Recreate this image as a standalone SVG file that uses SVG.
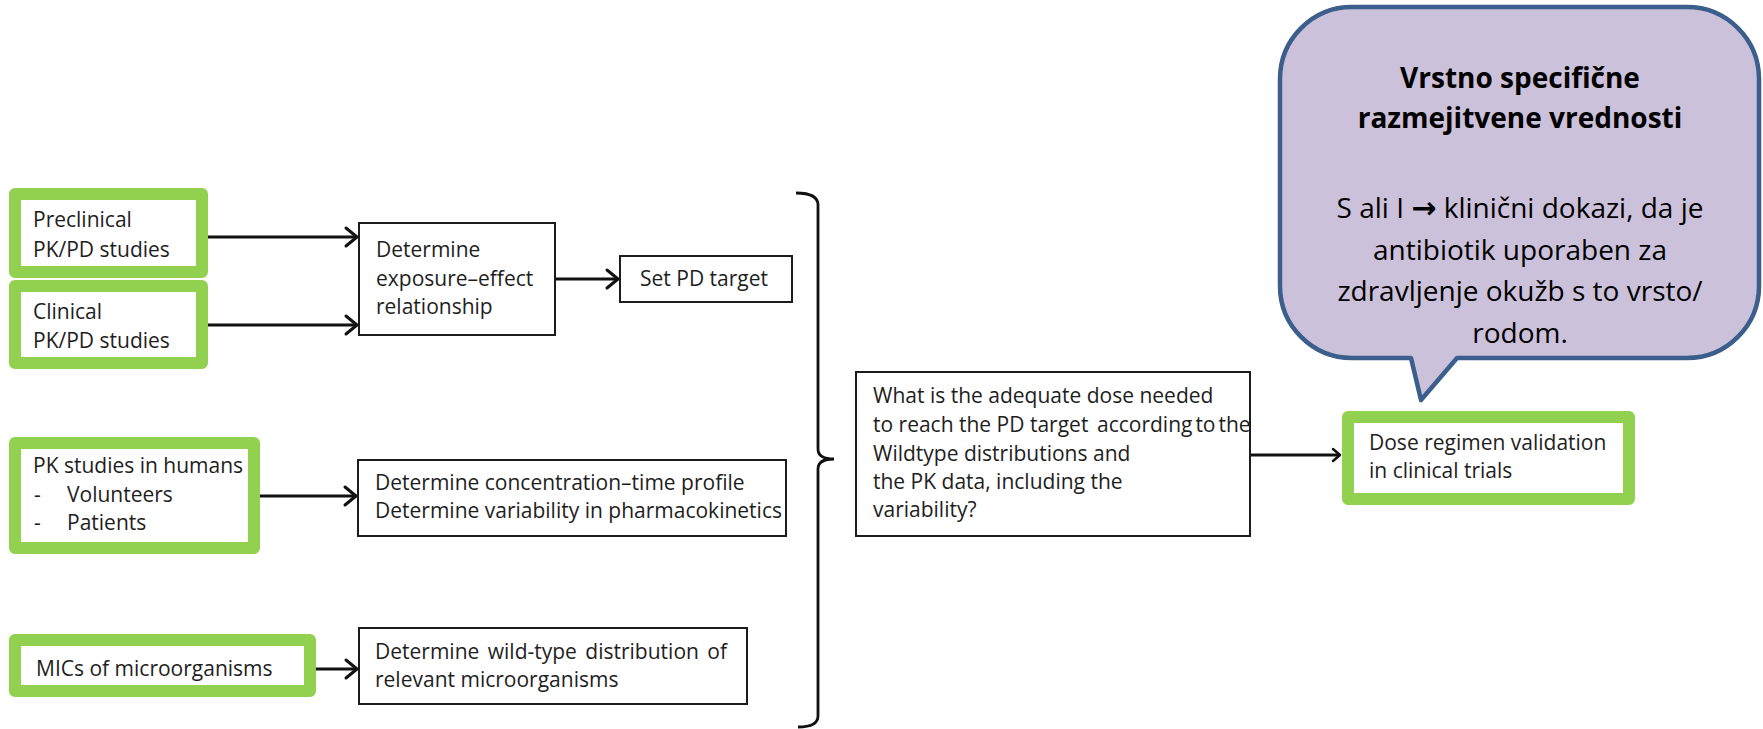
<svg xmlns="http://www.w3.org/2000/svg" width="1763" height="729" viewBox="0 0 1763 729">
<style>
.green{fill:#fff;stroke:#92D050;stroke-width:12;stroke-linejoin:round}
.box{fill:#fff;stroke:#1c1c1c;stroke-width:2}
.t{font-family:"Open Sans","Liberation Sans",sans-serif;font-size:21px;fill:#1e1e1e}
.conn{stroke:#111;stroke-width:3;fill:none}
.call{fill:#CCC1DA;stroke:#3B5E8C;stroke-width:4.5;stroke-linejoin:round}
.ct{font-family:"Open Sans","Liberation Sans",sans-serif;font-size:28px;fill:#000;text-anchor:middle}
</style>
<defs>
<marker id="arr" markerUnits="userSpaceOnUse" viewBox="-12 -10 14 20" refX="0" refY="0" markerWidth="14" markerHeight="20" orient="auto" overflow="visible">
<path d="M-11,-9 L0,0 L-11,9" fill="none" stroke="#111" stroke-width="3" stroke-linejoin="round" stroke-linecap="round"/>
</marker>
<marker id="arrs" markerUnits="userSpaceOnUse" viewBox="-10 -8 12 16" refX="0" refY="0" markerWidth="12" markerHeight="16" orient="auto" overflow="visible">
<path d="M-7,-6 L0,0 L-7,6" fill="none" stroke="#111" stroke-width="2.5" stroke-linejoin="round" stroke-linecap="round"/>
</marker>
</defs>
<rect width="1763" height="729" fill="#fff"/>

<g id="connectors">
<line class="conn" x1="208" y1="237" x2="357" y2="237" marker-end="url(#arr)"/>
<line class="conn" x1="208" y1="325" x2="357" y2="325" marker-end="url(#arr)"/>
<line class="conn" x1="555" y1="279" x2="618" y2="279" marker-end="url(#arr)"/>
<line class="conn" x1="260" y1="496" x2="356" y2="496" marker-end="url(#arr)"/>
<line class="conn" x1="316" y1="669" x2="357" y2="669" marker-end="url(#arr)"/>
<line class="conn" x1="1251" y1="455" x2="1340" y2="455" stroke-width="2.5" marker-end="url(#arrs)"/>
<path id="brace" d="M796 193 Q818 193 818 205 L818 449 Q818 459 834 459 Q818 459 818 469 L818 716 Q818 727 798 727" fill="none" stroke="#111" stroke-width="2.8"/>
</g>

<g id="preclinical">
<rect class="green" x="15" y="194" width="187" height="78"/>
<text class="t" x="33" y="227">Preclinical</text>
<text class="t" x="33" y="257">PK/PD studies</text>
</g>
<g id="clinical">
<rect class="green" x="15" y="286" width="187" height="77"/>
<text class="t" x="33" y="319">Clinical</text>
<text class="t" x="33" y="348">PK/PD studies</text>
</g>
<g id="pk-humans">
<rect class="green" x="15" y="443" width="239" height="105"/>
<text class="t" x="33" y="473">PK studies in humans</text>
<text class="t" x="34" y="502">-</text>
<text class="t" x="67" y="502">Volunteers</text>
<text class="t" x="34" y="530">-</text>
<text class="t" x="67" y="530">Patients</text>
</g>
<g id="mics">
<rect class="green" x="15" y="640" width="295" height="51"/>
<text class="t" x="36" y="676">MICs of microorganisms</text>
</g>

<g id="exposure-effect">
<rect class="box" x="359" y="223" width="196" height="112"/>
<text class="t" x="376" y="257">Determine</text>
<text class="t" x="376" y="285.5">exposure–effect</text>
<text class="t" x="376" y="314">relationship</text>
</g>
<g id="pd-target">
<rect class="box" x="620" y="256" width="172" height="46"/>
<text class="t" x="640" y="286">Set PD target</text>
</g>
<g id="conc-time">
<rect class="box" x="358" y="460" width="428" height="76"/>
<text class="t" x="375" y="490">Determine concentration–time profile</text>
<text class="t" x="375" y="518">Determine variability in pharmacokinetics</text>
</g>
<g id="wild-type">
<rect class="box" x="359" y="628" width="388" height="76"/>
<text class="t" x="375" y="659" word-spacing="3">Determine wild-type distribution of</text>
<text class="t" x="375" y="687">relevant microorganisms</text>
</g>

<g id="adequate-dose">
<rect class="box" x="856" y="372" width="394" height="164"/>
<text class="t" x="873" y="403">What is the adequate dose needed</text>
<text class="t" x="873" y="432">to reach the PD target</text>
<text class="t" x="1097" y="432" font-size="19" word-spacing="-2.5">according to the</text>
<text class="t" x="873" y="461">Wildtype distributions and</text>
<text class="t" x="873" y="489">the PK data, including the</text>
<text class="t" x="873" y="517">variability?</text>
</g>

<g id="dose-validation">
<rect class="green" x="1348" y="417" width="281" height="82"/>
<text class="t" x="1369" y="450">Dose regimen validation</text>
<text class="t" x="1369" y="478">in clinical trials</text>
</g>

<g id="callout">
<path class="call" d="M1352 7 H1687 A72 72 0 0 1 1759 79 V286 A72 72 0 0 1 1687 358 H1457 L1421 400 L1411 358 H1352 A72 72 0 0 1 1280 286 V79 A72 72 0 0 1 1352 7 Z"/>
<text class="ct" x="1520" y="88" font-weight="bold">Vrstno specifične</text>
<text class="ct" x="1520" y="128" font-weight="bold">razmejitvene vrednosti</text>
<text class="ct" x="1520" y="218">S ali I <tspan font-family="DejaVu Sans" font-weight="bold" font-size="30">→</tspan> klinični dokazi, da je</text>
<text class="ct" x="1520" y="260">antibiotik uporaben za</text>
<text class="ct" x="1520" y="301">zdravljenje okužb s to vrsto/</text>
<text class="ct" x="1520" y="343">rodom.</text>
</g>
</svg>
